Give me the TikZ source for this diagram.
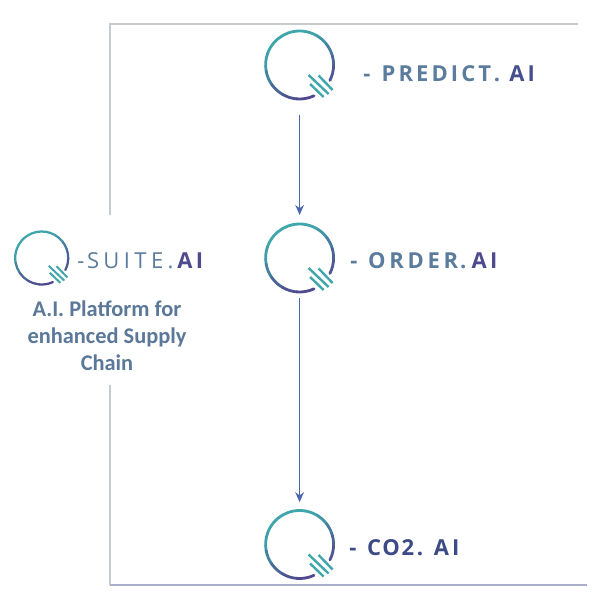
\documentclass[tikz,border=0pt]{standalone}
\usepackage{fontspec}
\usetikzlibrary{arrows.meta,calc}
\setmainfont{Carlito}
\newfontfamily\logospaced[LetterSpace=14]{Open Sans}
\newfontfamily\logowide[LetterSpace=20]{Open Sans}
\newfontfamily\logomed[LetterSpace=17]{Open Sans}
\newfontfamily\logotight[LetterSpace=8]{Open Sans}
\definecolor{lteal}{HTML}{3FA7AC}
\definecolor{lpurple}{HTML}{4F4A8E}
\definecolor{sblue}{HTML}{5B7C9C}
\definecolor{tagblue}{HTML}{5B7899}
\definecolor{darkai}{HTML}{45508C}
\definecolor{darkco}{HTML}{3C4A86}
\definecolor{framegray}{HTML}{C8CBCD}
\definecolor{framebl}{HTML}{A9AEC8}
\definecolor{arrowblue}{HTML}{4A66AE}
\tikzset{
  x=0.75pt,y=-0.75pt,
  frameline/.style={draw=framegray,line width=0.9pt},
  frameblue/.style={draw=framebl,line width=0.8pt},
  flow/.style={draw=arrowblue,line width=1.05pt,-{Stealth[length=7.5pt,width=6.5pt]}},
  logoanchor/.style={circle,minimum size=52.5pt,inner sep=0pt,outer sep=0pt},
  brandlabel/.style={anchor=west,inner sep=0pt,font=\logospaced\bfseries\fontsize{16.5pt}{18pt}\selectfont},
  tagline/.style={align=center,text=tagblue,font=\bfseries\fontsize{16.8pt}{20.25pt}\selectfont}
}
% \qlogo{centre node name}{scale}{arc width}{bar width}
\newcommand{\qlogo}[4]{%
  \begin{scope}[shift={(#1)},scale=#2,line cap=round]
    \foreach \a/\b/\m in {27/0/85,0/-20/70,-20/-40/45,-40/-60/20,-60/-80/5,-80/-160/0,-160/-190/10,-190/-215/40,-215/-240/70,-240/-265/90,-265/-295/100}{
      \draw[color=lpurple!\m!lteal,line width=#3] (\a:34) arc[start angle=\a,end angle=\b,radius=34];
    }
    \foreach \p/\q/\r/\s in {9/10/29/29,19/10.5/33/25,10.5/19/24/32}{
      \draw[color=lteal,line width=#4,line cap=butt] (\p,\q) -- (\r,\s);
    }
  \end{scope}}
\begin{document}
\begin{tikzpicture}
\useasboundingbox (0,0) rectangle (596,611);
\fill[white] (0,0) rectangle (596,611);
\coordinate (frameTopGap) at (110,215);
\coordinate (frameTopCorner) at (110,24);
\coordinate (frameTopEnd) at (578,24);
\coordinate (frameBotGap) at (110,385);
\coordinate (frameBotCorner) at (110,585);
\coordinate (frameBotEnd) at (587,585);
\draw[frameline] (frameTopGap) -- (frameTopCorner) -- (frameTopEnd);
\draw[frameline] (frameBotGap) -- (frameBotCorner);
\draw[frameblue] (frameBotCorner) -- (frameBotEnd);

\node[logoanchor] (predict) at (299.6,65) {};
\node[logoanchor] (order) at (299.6,258) {};
\node[logoanchor] (co2) at (299.6,544.5) {};
\node[logoanchor,minimum size=40pt] (suite) at (41.7,258) {};
\qlogo{predict}{1}{2.1pt}{1.8pt}
\qlogo{order}{1}{2.1pt}{1.8pt}
\qlogo{co2}{1}{2.1pt}{1.8pt}
\begin{scope}
  \clip (13,200) rectangle (100,310);
  \qlogo{suite}{0.78}{1.7pt}{1.5pt}
\end{scope}

\node[brandlabel,text=sblue] (predictlabel) at (363,74) {-\hspace{8.5pt}PREDICT\hspace{2pt}.\hspace{7pt}\textcolor{darkai}{AI}};
\node[brandlabel,text=sblue] (orderlabel) at (350,261) {-\hspace{8pt}{\logomed\bfseries ORDER\hspace{1.5pt}.}\hspace{4pt}\textcolor{lpurple}{AI}};
\node[brandlabel,text=darkco] (co2label) at (349,548) {-\hspace{8pt}{\logotight\bfseries CO2\hspace{2pt}.}\hspace{8pt}AI};
\node[brandlabel,text=sblue] (suitelabel) at (77,261) {{\logowide\mdseries -\hspace{2pt}SUITE.\hspace{3pt}}\textcolor{lpurple}{AI}};
\node[tagline] (tag) at (107,336) {A.I. Platform for\\enhanced Supply\\Chain};

\draw[flow,shorten <=11pt,shorten >=6pt] (predict) -- (order);
\draw[flow,shorten <=3.75pt,shorten >=5.5pt] (order) -- (co2);
\end{tikzpicture}
\end{document}
